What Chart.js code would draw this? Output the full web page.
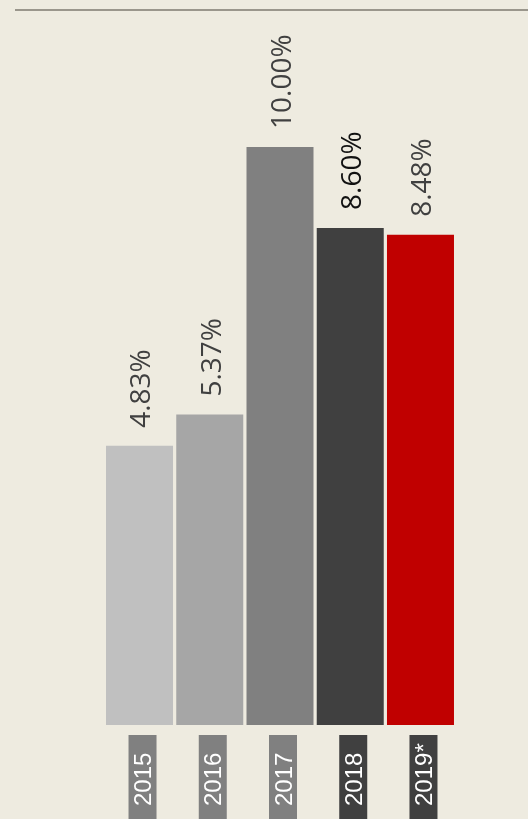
<!DOCTYPE html>
<html>
<head>
<meta charset="utf-8">
<script src="https://cdn.jsdelivr.net/npm/chart.js@4/dist/chart.umd.min.js"></script>
<style>
  html, body { margin: 0; padding: 0; background: #eeebe0; }
  #wrap { position: relative; width: 528px; height: 819px; }
  #topline { position: absolute; left: 15px; right: 0; top: 9px; border-top: 2px solid #9a968c; }
</style>
</head>
<body>
<div id="wrap">
  <div id="topline"></div>
  <canvas id="chart" width="528" height="819"></canvas>
</div>
<script>
// Datos del gráfico
const years = ['2015', '2016', '2017', '2018', '2019*'];
const values = [4.83, 5.37, 10.00, 8.60, 8.48];
const barColors = ['#c0c0c0', '#a6a6a6', '#808080', '#404040', '#c00000'];
const labelColors = ['#404040', '#404040', '#404040', '#111111', '#404040'];
const yearBoxColors = ['#808080', '#808080', '#808080', '#404040', '#404040'];

// Etiquetas de valor y de año dibujadas a mano
const labelsPlugin = {
    id: 'labels',
    afterDatasetsDraw(chart) {
        const ctx = chart.ctx;
        const meta = chart.getDatasetMeta(0);
        meta.data.forEach((bar, i) => {
            // valor encima de la barra
            ctx.save();
            ctx.translate(bar.x + 3, bar.y - 18);
            ctx.rotate(-Math.PI / 2);
            ctx.font = '28px "Open Sans"';
            ctx.fillStyle = labelColors[i];
            ctx.textAlign = 'left';
            ctx.textBaseline = 'middle';
            ctx.fillText(values[i].toFixed(2) + '%', 0, 0);
            ctx.restore();

            // caja del año
            const cx = bar.x + 3;
            ctx.fillStyle = yearBoxColors[i];
            ctx.fillRect(cx - 14, 735, 28, 90);
            ctx.save();
            ctx.translate(cx + 2, 806);
            ctx.rotate(-Math.PI / 2);
            ctx.font = '24px "Liberation Sans"';
            ctx.fillStyle = '#ffffff';
            ctx.textAlign = 'left';
            ctx.textBaseline = 'middle';
            ctx.fillText(years[i], 0, 0);
            ctx.restore();
        });
    }
};

new Chart(document.getElementById('chart'), {
    type: 'bar',
    data: {
        labels: years,
        datasets: [{
            data: values,
            backgroundColor: barColors,
            borderWidth: 0,
            categoryPercentage: 1,
            barPercentage: 0.954
        }]
    },
    options: {
        responsive: false,
        animation: false,
        layout: { padding: { left: 104.4, right: 72.4, top: 10, bottom: 94 } },
        plugins: { legend: { display: false }, tooltip: { enabled: false } },
        scales: {
            x: { display: false },
            y: { display: false, min: 0, max: 12.37 }
        }
    },
    plugins: [labelsPlugin]
});
</script>
</body>
</html>
